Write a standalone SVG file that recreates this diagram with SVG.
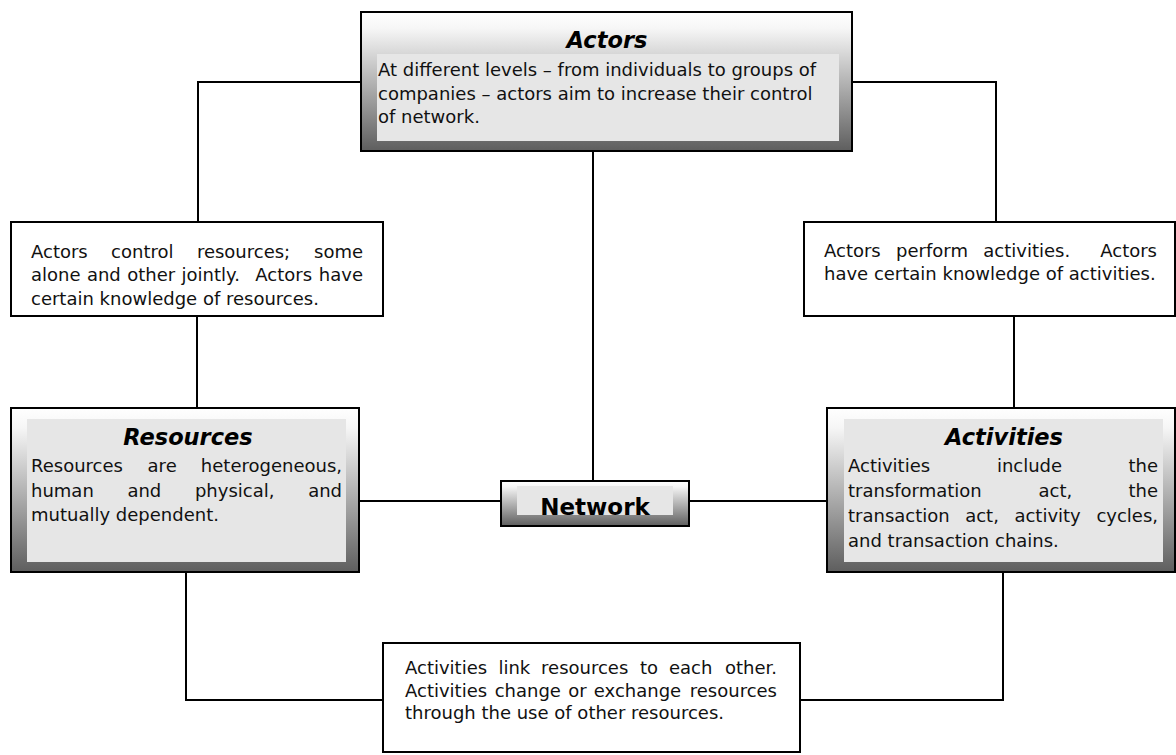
<svg xmlns="http://www.w3.org/2000/svg" width="1176" height="755" viewBox="0 0 1176 755">
<defs>
<linearGradient id="shade" x1="0" y1="0" x2="0" y2="1">
<stop offset="0" stop-color="#ffffff"/>
<stop offset="0.12" stop-color="#f6f6f6"/>
<stop offset="1" stop-color="#5e5e5e"/>
</linearGradient>
</defs>
<style>
.outer{fill:url(#shade);stroke:#000;stroke-width:2}
.inner{fill:#e6e6e6}
.plain{fill:#fff;stroke:#000;stroke-width:2}
.t{font-family:"DejaVu Sans",sans-serif;font-size:18px;fill:#111}
.e{text-anchor:end}
.h{font-family:"DejaVu Sans",sans-serif;font-size:22.5px;font-weight:bold;font-style:italic;fill:#000;text-anchor:middle}
.n{font-family:"DejaVu Sans",sans-serif;font-size:23px;font-weight:bold;fill:#000;text-anchor:middle}
.c{fill:none;stroke:#000;stroke-width:2}
</style>
<rect width="1176" height="755" fill="#fff"/>
<g id="connectors">
<path class="c" d="M361,82 H198 V222"/>
<path class="c" d="M852,82 H996 V222"/>
<path class="c" d="M593,151 V481"/>
<path class="c" d="M197,316 V408"/>
<path class="c" d="M1014,316 V408"/>
<path class="c" d="M359,501 H501"/>
<path class="c" d="M689,501 H827"/>
<path class="c" d="M186,572 V700 H383"/>
<path class="c" d="M1003,572 V700 H800"/>
</g>
<g id="actors">
<rect class="outer" x="361" y="12" width="491" height="139"/>
<rect class="inner" x="377" y="54" width="462" height="87"/>
<text class="h" x="607" y="48">Actors</text>
<text class="t" x="378" y="76">At different levels – from individuals to groups of</text>
<text class="t" x="378" y="100">companies – actors aim to increase their control</text>
<text class="t" x="378" y="123">of network.</text>
</g>
<g id="actors-resources">
<rect class="plain" x="11" y="222" width="372" height="94"/>
<text class="t" y="258"><tspan x="31">Actors</tspan><tspan x="111.1">control</tspan><tspan x="196.9">resources;</tspan><tspan class="e" x="363">some</tspan></text>
<text class="t" y="281"><tspan x="31">alone</tspan><tspan x="86.9">and</tspan><tspan x="127.2">other</tspan><tspan x="181.6">jointly.</tspan><tspan x="255.3">Actors</tspan><tspan class="e" x="363">have</tspan></text>
<text class="t" x="31" y="305">certain knowledge of resources.</text>
</g>
<g id="actors-activities">
<rect class="plain" x="804" y="222" width="371" height="94"/>
<text class="t" y="257"><tspan x="824">Actors</tspan><tspan x="896.1">perform</tspan><tspan x="983.3">activities.</tspan><tspan class="e" x="1157">Actors</tspan></text>
<text class="t" x="824" y="280">have certain knowledge of activities.</text>
</g>
<g id="resources">
<rect class="outer" x="11" y="408" width="348" height="164"/>
<rect class="inner" x="27" y="419" width="319" height="143"/>
<text class="h" x="188" y="445">Resources</text>
<text class="t" y="472"><tspan x="31">Resources</tspan><tspan x="147.6">are</tspan><tspan class="e" x="342">heterogeneous,</tspan></text>
<text class="t" y="497"><tspan x="31">human</tspan><tspan x="127.4">and</tspan><tspan x="194.9">physical,</tspan><tspan class="e" x="342">and</tspan></text>
<text class="t" x="31" y="521">mutually dependent.</text>
</g>
<g id="network">
<rect class="outer" x="501" y="481" width="188" height="45"/>
<rect class="inner" x="517" y="486" width="156" height="29"/>
<text class="n" x="595" y="515">Network</text>
</g>
<g id="activities">
<rect class="outer" x="827" y="408" width="348" height="164"/>
<rect class="inner" x="844" y="419" width="319" height="143"/>
<text class="h" x="1004" y="445">Activities</text>
<text class="t" y="472"><tspan x="848">Activities</tspan><tspan x="996.9">include</tspan><tspan class="e" x="1158">the</tspan></text>
<text class="t" y="497"><tspan x="848">transformation</tspan><tspan x="1038.5">act,</tspan><tspan class="e" x="1158">the</tspan></text>
<text class="t" y="522"><tspan x="848">transaction</tspan><tspan x="965.2">act,</tspan><tspan x="1014.4">activity</tspan><tspan class="e" x="1158">cycles,</tspan></text>
<text class="t" x="848" y="547">and transaction chains.</text>
</g>
<g id="activities-resources">
<rect class="plain" x="383" y="643" width="417" height="109"/>
<text class="t" y="674"><tspan x="405">Activities</tspan><tspan x="498.4">link</tspan><tspan x="541.1">resources</tspan><tspan x="640">to</tspan><tspan x="669">each</tspan><tspan class="e" x="777">other.</tspan></text>
<text class="t" y="697"><tspan x="405">Activities</tspan><tspan x="494.7">change</tspan><tspan x="568.2">or</tspan><tspan x="593.8">exchange</tspan><tspan class="e" x="777">resources</tspan></text>
<text class="t" x="405" y="719">through the use of other resources.</text>
</g>
</svg>
